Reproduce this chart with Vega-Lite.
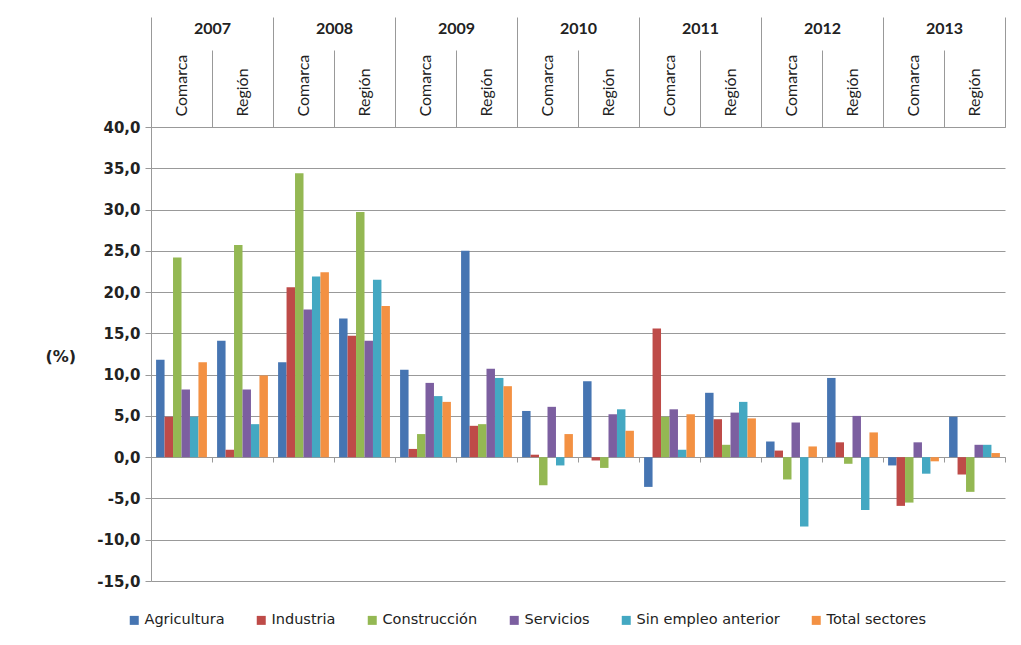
{
  "$schema": "https://vega.github.io/schema/vega-lite/v6.json",
  "width": 854,
  "height": 454,
  "autosize": "none",
  "padding": {"left": 151, "top": 127, "right": 16, "bottom": 64},
  "background": "white",
  "config": {
    "view": {"stroke": null},
    "axis": {"gridColor": "#999999", "domainColor": "#999999", "tickColor": "#999999", "labelColor": "#222222"}
  },
  "data": {
    "values": [
      {"year": "2007", "area": "Comarca", "sector": "Agricultura", "value": 11.8},
      {"year": "2007", "area": "Comarca", "sector": "Industria", "value": 4.9},
      {"year": "2007", "area": "Comarca", "sector": "Construcción", "value": 24.2},
      {"year": "2007", "area": "Comarca", "sector": "Servicios", "value": 8.2},
      {"year": "2007", "area": "Comarca", "sector": "Sin empleo anterior", "value": 4.9},
      {"year": "2007", "area": "Comarca", "sector": "Total sectores", "value": 11.5},
      {"year": "2007", "area": "Región", "sector": "Agricultura", "value": 14.1},
      {"year": "2007", "area": "Región", "sector": "Industria", "value": 0.9},
      {"year": "2007", "area": "Región", "sector": "Construcción", "value": 25.7},
      {"year": "2007", "area": "Región", "sector": "Servicios", "value": 8.2},
      {"year": "2007", "area": "Región", "sector": "Sin empleo anterior", "value": 4.0},
      {"year": "2007", "area": "Región", "sector": "Total sectores", "value": 9.9},
      {"year": "2008", "area": "Comarca", "sector": "Agricultura", "value": 11.5},
      {"year": "2008", "area": "Comarca", "sector": "Industria", "value": 20.6},
      {"year": "2008", "area": "Comarca", "sector": "Construcción", "value": 34.4},
      {"year": "2008", "area": "Comarca", "sector": "Servicios", "value": 17.9},
      {"year": "2008", "area": "Comarca", "sector": "Sin empleo anterior", "value": 21.9},
      {"year": "2008", "area": "Comarca", "sector": "Total sectores", "value": 22.4},
      {"year": "2008", "area": "Región", "sector": "Agricultura", "value": 16.8},
      {"year": "2008", "area": "Región", "sector": "Industria", "value": 14.7},
      {"year": "2008", "area": "Región", "sector": "Construcción", "value": 29.7},
      {"year": "2008", "area": "Región", "sector": "Servicios", "value": 14.1},
      {"year": "2008", "area": "Región", "sector": "Sin empleo anterior", "value": 21.5},
      {"year": "2008", "area": "Región", "sector": "Total sectores", "value": 18.3},
      {"year": "2009", "area": "Comarca", "sector": "Agricultura", "value": 10.6},
      {"year": "2009", "area": "Comarca", "sector": "Industria", "value": 1.0},
      {"year": "2009", "area": "Comarca", "sector": "Construcción", "value": 2.8},
      {"year": "2009", "area": "Comarca", "sector": "Servicios", "value": 9.0},
      {"year": "2009", "area": "Comarca", "sector": "Sin empleo anterior", "value": 7.4},
      {"year": "2009", "area": "Comarca", "sector": "Total sectores", "value": 6.7},
      {"year": "2009", "area": "Región", "sector": "Agricultura", "value": 25.0},
      {"year": "2009", "area": "Región", "sector": "Industria", "value": 3.8},
      {"year": "2009", "area": "Región", "sector": "Construcción", "value": 4.0},
      {"year": "2009", "area": "Región", "sector": "Servicios", "value": 10.7},
      {"year": "2009", "area": "Región", "sector": "Sin empleo anterior", "value": 9.6},
      {"year": "2009", "area": "Región", "sector": "Total sectores", "value": 8.6},
      {"year": "2010", "area": "Comarca", "sector": "Agricultura", "value": 5.6},
      {"year": "2010", "area": "Comarca", "sector": "Industria", "value": 0.3},
      {"year": "2010", "area": "Comarca", "sector": "Construcción", "value": -3.4},
      {"year": "2010", "area": "Comarca", "sector": "Servicios", "value": 6.1},
      {"year": "2010", "area": "Comarca", "sector": "Sin empleo anterior", "value": -1.0},
      {"year": "2010", "area": "Comarca", "sector": "Total sectores", "value": 2.8},
      {"year": "2010", "area": "Región", "sector": "Agricultura", "value": 9.2},
      {"year": "2010", "area": "Región", "sector": "Industria", "value": -0.4},
      {"year": "2010", "area": "Región", "sector": "Construcción", "value": -1.3},
      {"year": "2010", "area": "Región", "sector": "Servicios", "value": 5.2},
      {"year": "2010", "area": "Región", "sector": "Sin empleo anterior", "value": 5.8},
      {"year": "2010", "area": "Región", "sector": "Total sectores", "value": 3.2},
      {"year": "2011", "area": "Comarca", "sector": "Agricultura", "value": -3.6},
      {"year": "2011", "area": "Comarca", "sector": "Industria", "value": 15.6},
      {"year": "2011", "area": "Comarca", "sector": "Construcción", "value": 4.9},
      {"year": "2011", "area": "Comarca", "sector": "Servicios", "value": 5.8},
      {"year": "2011", "area": "Comarca", "sector": "Sin empleo anterior", "value": 0.9},
      {"year": "2011", "area": "Comarca", "sector": "Total sectores", "value": 5.2},
      {"year": "2011", "area": "Región", "sector": "Agricultura", "value": 7.8},
      {"year": "2011", "area": "Región", "sector": "Industria", "value": 4.6},
      {"year": "2011", "area": "Región", "sector": "Construcción", "value": 1.5},
      {"year": "2011", "area": "Región", "sector": "Servicios", "value": 5.4},
      {"year": "2011", "area": "Región", "sector": "Sin empleo anterior", "value": 6.7},
      {"year": "2011", "area": "Región", "sector": "Total sectores", "value": 4.7},
      {"year": "2012", "area": "Comarca", "sector": "Agricultura", "value": 1.9},
      {"year": "2012", "area": "Comarca", "sector": "Industria", "value": 0.8},
      {"year": "2012", "area": "Comarca", "sector": "Construcción", "value": -2.7},
      {"year": "2012", "area": "Comarca", "sector": "Servicios", "value": 4.2},
      {"year": "2012", "area": "Comarca", "sector": "Sin empleo anterior", "value": -8.4},
      {"year": "2012", "area": "Comarca", "sector": "Total sectores", "value": 1.3},
      {"year": "2012", "area": "Región", "sector": "Agricultura", "value": 9.6},
      {"year": "2012", "area": "Región", "sector": "Industria", "value": 1.8},
      {"year": "2012", "area": "Región", "sector": "Construcción", "value": -0.8},
      {"year": "2012", "area": "Región", "sector": "Servicios", "value": 5.0},
      {"year": "2012", "area": "Región", "sector": "Sin empleo anterior", "value": -6.4},
      {"year": "2012", "area": "Región", "sector": "Total sectores", "value": 3.0},
      {"year": "2013", "area": "Comarca", "sector": "Agricultura", "value": -1.0},
      {"year": "2013", "area": "Comarca", "sector": "Industria", "value": -5.9},
      {"year": "2013", "area": "Comarca", "sector": "Construcción", "value": -5.5},
      {"year": "2013", "area": "Comarca", "sector": "Servicios", "value": 1.8},
      {"year": "2013", "area": "Comarca", "sector": "Sin empleo anterior", "value": -2.0},
      {"year": "2013", "area": "Comarca", "sector": "Total sectores", "value": -0.5},
      {"year": "2013", "area": "Región", "sector": "Agricultura", "value": 4.9},
      {"year": "2013", "area": "Región", "sector": "Industria", "value": -2.1},
      {"year": "2013", "area": "Región", "sector": "Construcción", "value": -4.2},
      {"year": "2013", "area": "Región", "sector": "Servicios", "value": 1.5},
      {"year": "2013", "area": "Región", "sector": "Sin empleo anterior", "value": 1.5},
      {"year": "2013", "area": "Región", "sector": "Total sectores", "value": 0.5}
    ]
  },
  "transform": [{"calculate": "datum.year + ' ' + datum.area", "as": "cat"}],
  "layer": [
    {
      "mark": {"type": "bar"},
      "encoding": {
        "x": {
          "field": "cat", "type": "nominal", "sort": null,
          "scale": {"paddingInner": 0, "paddingOuter": 0},
          "axis": {
            "orient": "top", "title": null, "labelAngle": -90, "labelAlign": "left", "labelBaseline": "middle",
            "labelExpr": "split(datum.label, ' ')[1]", "tickBand": "extent", "tickSize": 77, "labelPadding": -66,
            "domain": false, "labelFont": "Lato", "labelFontSize": 16, "grid": false
          }
        },
        "xOffset": {
          "field": "sector", "type": "nominal",
          "sort": ["Agricultura", "Industria", "Construcción", "Servicios", "Sin empleo anterior", "Total sectores"],
          "scale": {"paddingInner": 0, "paddingOuter": 0.6}
        },
        "y": {
          "field": "value", "type": "quantitative",
          "scale": {"domain": [-15, 40], "nice": false, "zero": false},
          "axis": {
            "values": [-15, -10, -5, 0, 5, 10, 15, 20, 25, 30, 35, 40],
            "labelExpr": "replace(replace(format(datum.value, '.1f'), '.', ','), '\u2212', '-')",
            "grid": true, "tickSize": 6, "labelPadding": 5,
            "labelFont": "DejaVu Sans", "labelFontWeight": "bold", "labelFontSize": 15,
            "title": "(%)", "titleAngle": 0, "titleAlign": "left", "titleBaseline": "middle",
            "titleX": -106, "titleY": 229, "titleFont": "DejaVu Sans", "titleFontSize": 16, "titleFontWeight": "bold",
            "titleColor": "#222222"
          }
        },
        "color": {
          "field": "sector", "type": "nominal",
          "scale": {
            "domain": ["Agricultura", "Industria", "Construcción", "Servicios", "Sin empleo anterior", "Total sectores"],
            "range": ["#4675B2", "#BE4B48", "#94B853", "#7C5FA0", "#44A8C2", "#F39143"]
          },
          "legend": {
            "orient": "none", "legendX": -24, "legendY": 486, "direction": "horizontal", "title": null,
            "symbolType": "square", "symbolSize": 81, "symbolStrokeWidth": 0, "labelFont": "DejaVu Sans",
            "labelFontSize": 14.5, "labelColor": "#222222", "columnPadding": 29, "labelOffset": 3
          }
        }
      }
    },
    {
      "mark": {"type": "rule", "opacity": 0},
      "encoding": {
        "x": {
          "field": "year", "type": "ordinal",
          "scale": {"paddingInner": 0, "paddingOuter": 0},
          "axis": {
            "orient": "top", "title": null, "labelAngle": 0, "labelAlign": "center", "labelBaseline": "middle",
            "tickBand": "extent", "tickSize": 110, "labelPadding": -11, "domain": false, "grid": false,
            "labelFont": "Lato", "labelFontWeight": "bold", "labelFontSize": 16
          }
        }
      }
    },
    {
      "mark": {"type": "rule", "opacity": 0},
      "encoding": {
        "x": {
          "field": "cat", "type": "nominal", "sort": null,
          "scale": {"paddingInner": 0, "paddingOuter": 0},
          "axis": {
            "orient": "bottom", "offset": -124, "labels": false, "title": null, "tickBand": "extent",
            "tickSize": 5, "domain": true, "grid": false
          }
        }
      }
    }
  ],
  "resolve": {"scale": {"x": "independent"}}
}
